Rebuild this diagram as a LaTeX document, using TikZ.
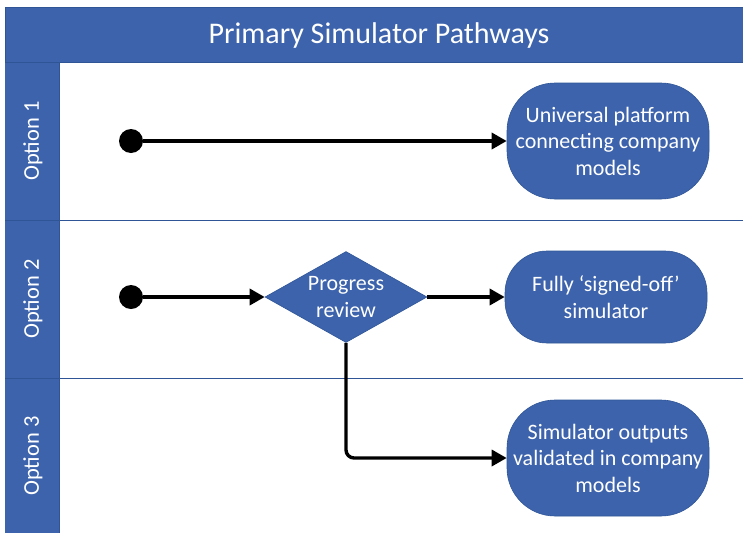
\documentclass[tikz,border=0pt]{standalone}
\usepackage{fontspec}
\setmainfont{Carlito}
\usetikzlibrary{arrows.meta,shapes.geometric}
\definecolor{lanefill}{HTML}{3D63AC}
\definecolor{laneline}{HTML}{2F5597}
\tikzset{
  flowline/.style={line width=3.4pt,-{Triangle[length=15pt,width=16pt]},rounded corners=8pt},
  term/.style={draw=laneline,line width=0.6pt,fill=lanefill,rounded corners=48pt,minimum width=202pt,minimum height=116pt,text=white,align=center,font=\fontsize{22}{26.5}\selectfont,inner sep=0pt},
  startdot/.style={circle,fill=black,minimum size=24pt,inner sep=0pt},
  decide/.style={diamond,draw=laneline,line width=0.6pt,fill=lanefill,text=white,align=center,font=\fontsize{22}{26.5}\selectfont,minimum width=162pt,minimum height=91pt,inner sep=0pt,aspect=1.78},
  lanelabel/.style={rotate=90,text=white,font=\fontsize{22.5}{26}\selectfont},
}
\begin{document}
\begin{tikzpicture}[x=1pt,y=-1pt]
\useasboundingbox (0,0) rectangle (743,533);
\fill[white] (0,0) rectangle (743,533);
% title band
\fill[lanefill] (5,7) rectangle (743,62);
\draw[laneline,line width=0.8pt] (743,7) -- (5,7) -- (5,533);
\node[text=white,font=\fontsize{30}{34}\selectfont] (title) at (379,36) {Primary Simulator Pathways};
% lane label strip
\fill[lanefill] (5,62) rectangle (59,533);
\draw[laneline,line width=0.8pt] (5,62) -- (743,62);
\draw[laneline,line width=0.8pt] (59,62) -- (59,533);
\draw[laneline,line width=0.8pt] (5,220) -- (743,220);
\draw[laneline,line width=0.8pt] (5,378) -- (743,378);
\node[lanelabel] (l1) at (33,141) {Option 1};
\node[lanelabel] (l2) at (33,299) {Option 2};
\node[lanelabel] (l3) at (33,456) {Option 3};
% nodes
\node[startdot] (s1) at (131,141) {};
\node[startdot] (s2) at (131,297) {};
\node[term] (t1) at (608,141) {Universal platform\\connecting company\\models};
\node[term,minimum height=92pt,rounded corners=42pt] (t2) at (606,297) {Fully ‘signed-off’\\simulator};
\node[term] (t3) at (608,458) {Simulator outputs\\validated in company\\models};
\node[decide] (d) at (346,297) {Progress\\review};
% connectors
\draw[flowline] (s1) -- (t1.west);
\draw[flowline] (s2) -- (d.west);
\draw[flowline] (d.east) -- (t2.west);
\draw[flowline] (d.south) |- (t3.west);
\end{tikzpicture}
\end{document}
